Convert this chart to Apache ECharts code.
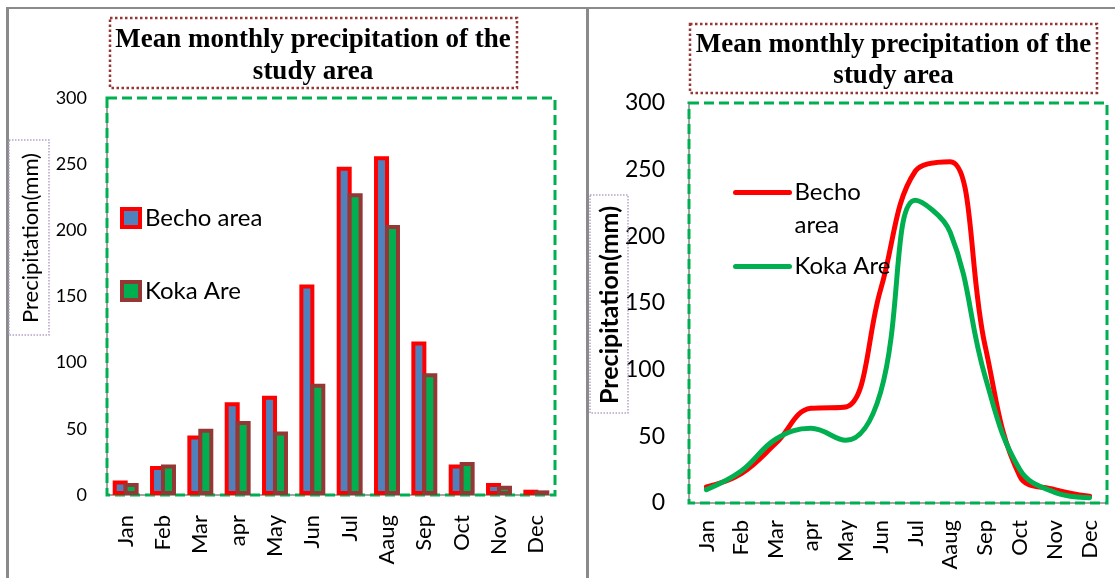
<!DOCTYPE html>
<html>
<head>
<meta charset="utf-8">
<script src="https://cdn.jsdelivr.net/npm/echarts@6/dist/echarts.min.js"></script>
<style>
  html, body { margin: 0; padding: 0; background: #fff; }
  #left { position: absolute; left: 0; top: 0; width: 586px; height: 578px; }
  #right { position: absolute; left: 586px; top: 0; width: 529px; height: 578px; }
</style>
</head>
<body>
<div id="left"></div>
<div id="right"></div>
<script>
// data (mm)
const months = ['Jan', 'Feb', 'Mar', 'apr', 'May', 'Jun', 'Jul', 'Aaug', 'Sep', 'Oct', 'Nov', 'Dec'];
const bechoBars = [11, 22, 45, 70, 75, 159, 248, 256, 116, 23, 9, 4];
const kokaBars = [9, 23, 50, 56, 48, 84, 228, 204, 92, 25, 7, 3.5];
const bechoLine = [12, 22, 45, 71, 72, 160, 249, 256, 118, 20, 10, 5];
const kokaLine = [10, 24, 48, 56, 47, 83, 227, 203, 95, 25, 8, 4];
const yMin = 0, yMax = 300, yStep = 50;

const titleText = 'Mean monthly precipitation of the\nstudy area';
const yName = 'Precipitation(mm)';
const sans = 'Lato';
const frameColor = '#8a8a8a';
const axisColor = '#868686';

const yAxisBase = (fontSize, margin) => ({
    type: 'value', min: yMin, max: yMax, interval: yStep,
    axisLine: { show: true, lineStyle: { color: axisColor, width: 1.5 } },
    axisTick: { show: false },
    splitLine: { show: false },
    axisLabel: { fontSize: fontSize, fontFamily: sans, color: '#000', margin: margin }
});

const xAxisBase = (fontSize, margin) => ({
    type: 'category', data: months,
    axisTick: { show: false },
    axisLine: { lineStyle: { color: axisColor, width: 1.5 } },
    axisLabel: { rotate: 90, interval: 0, fontSize: fontSize, fontFamily: sans, color: '#000', margin: margin }
});

const dashedBox = (x, y, w, h) => ({
    type: 'rect', z: 1, silent: true,
    shape: { x: x, y: y, width: w, height: h },
    style: { fill: 'none', stroke: '#00B050', lineWidth: 3, lineDash: [10, 5] }
});

const dottedBox = (x, y, w, h, color, lw) => ({
    type: 'rect', z: 1, silent: true,
    shape: { x: x, y: y, width: w, height: h },
    style: { fill: 'none', stroke: color, lineWidth: lw, lineDash: [lw, lw] }
});

const legendText = { fontSize: 24, fontFamily: sans, color: '#000' };

// ---------- left: bar chart ----------
const leftChart = echarts.init(document.getElementById('left'));
leftChart.setOption({
    animation: false,
    grid: { left: 107, top: 98, width: 448, height: 397 },
    xAxis: xAxisBase(22, 20),
    yAxis: yAxisBase(18, 20),
    legend: [
        {
            data: ['Becho area'], left: 120, top: 203, padding: 0,
            icon: 'rect', itemWidth: 18, itemHeight: 18,
            itemStyle: { color: '#4F81BD', borderColor: '#FF0000', borderWidth: 4 },
            textStyle: Object.assign({ lineHeight: 30 }, legendText)
        },
        {
            data: ['Koka Are'], left: 120, top: 276, padding: 0,
            icon: 'rect', itemWidth: 18, itemHeight: 18,
            itemStyle: { color: '#00B050', borderColor: '#953735', borderWidth: 4 },
            textStyle: Object.assign({ lineHeight: 30 }, legendText)
        }
    ],
    series: [
        {
            name: 'Becho area', type: 'bar', data: bechoBars,
            barWidth: 15, barGap: '-27%',
            itemStyle: { color: '#4F81BD', borderColor: '#FF0000', borderWidth: 4 }
        },
        {
            name: 'Koka Are', type: 'bar', data: kokaBars,
            barWidth: 15,
            itemStyle: { color: '#00B050', borderColor: '#953735', borderWidth: 4 }
        }
    ],
    graphic: [
        { type: 'line', silent: true, shape: { x1: 6, y1: 8, x2: 586, y2: 8 }, style: { stroke: frameColor, lineWidth: 2 } },
        { type: 'line', silent: true, shape: { x1: 7.5, y1: 7, x2: 7.5, y2: 578 }, style: { stroke: frameColor, lineWidth: 3 } },
        dottedBox(110, 18, 407, 70, '#953735', 2.5),
        {
            type: 'text', x: 313, y: 24, silent: true,
            style: {
                text: titleText, align: 'center', verticalAlign: 'top',
                fontFamily: 'Liberation Serif', fontWeight: 'bold', fontSize: 27, lineHeight: 32, fill: '#000'
            }
        },
        dashedBox(107, 98, 448, 397),
        dottedBox(9, 140, 40, 195, '#B3A2C7', 1.5),
        {
            type: 'text', x: 31, y: 238, rotation: Math.PI / 2, silent: true,
            style: { text: yName, align: 'center', verticalAlign: 'middle', fontFamily: sans, fontSize: 22, fill: '#000' }
        }
    ]
});

// ---------- right: smoothed lines ----------
const rightChart = echarts.init(document.getElementById('right'));
rightChart.setOption({
    animation: false,
    grid: { left: 103, top: 103, width: 418, height: 400 },
    xAxis: xAxisBase(22, 17),
    yAxis: yAxisBase(23, 24),
    legend: [
        {
            // leading empty line keeps "Becho" level with the line icon
            data: ['Becho area'], left: 147, top: 143, padding: 0,
            itemWidth: 54, itemHeight: 14,
            formatter: () => '\nBecho\narea',
            itemStyle: { color: 'transparent', borderWidth: 0 },
            lineStyle: { color: '#FF0000', width: 5, cap: 'round' },
            textStyle: Object.assign({ lineHeight: 33 }, legendText)
        },
        {
            data: ['Koka Are'], left: 147, top: 250, padding: 0,
            itemWidth: 54, itemHeight: 14,
            itemStyle: { color: 'transparent', borderWidth: 0 },
            lineStyle: { color: '#00B050', width: 5, cap: 'round' },
            textStyle: Object.assign({ lineHeight: 33 }, legendText)
        }
    ],
    series: [
        {
            name: 'Becho area', type: 'line', data: bechoLine, smooth: 0.4,
            symbol: 'none', lineStyle: { color: '#FF0000', width: 5, cap: 'round' },
            itemStyle: { color: '#FF0000' }
        },
        {
            name: 'Koka Are', type: 'line', data: kokaLine, smooth: 0.4,
            symbol: 'none', lineStyle: { color: '#00B050', width: 5, cap: 'round' },
            itemStyle: { color: '#00B050' }
        }
    ],
    graphic: [
        { type: 'line', silent: true, shape: { x1: 0, y1: 8, x2: 529, y2: 8 }, style: { stroke: frameColor, lineWidth: 2 } },
        { type: 'line', silent: true, shape: { x1: 1.5, y1: 7, x2: 1.5, y2: 578 }, style: { stroke: frameColor, lineWidth: 3 } },
        dottedBox(104, 24, 407, 69, '#953735', 2.5),
        {
            type: 'text', x: 307.5, y: 29.5, silent: true,
            style: {
                text: titleText, align: 'center', verticalAlign: 'top',
                fontFamily: 'Liberation Serif', fontWeight: 'bold', fontSize: 27, lineHeight: 31, fill: '#000'
            }
        },
        dashedBox(103, 103, 418, 400),
        dottedBox(4, 195, 38, 218, '#B3A2C7', 1.5),
        {
            type: 'text', x: 24, y: 305, rotation: Math.PI / 2, silent: true,
            style: { text: yName, align: 'center', verticalAlign: 'middle', fontFamily: sans, fontWeight: 'bold', fontSize: 25, fill: '#000' }
        }
    ]
});
</script>
</body>
</html>
